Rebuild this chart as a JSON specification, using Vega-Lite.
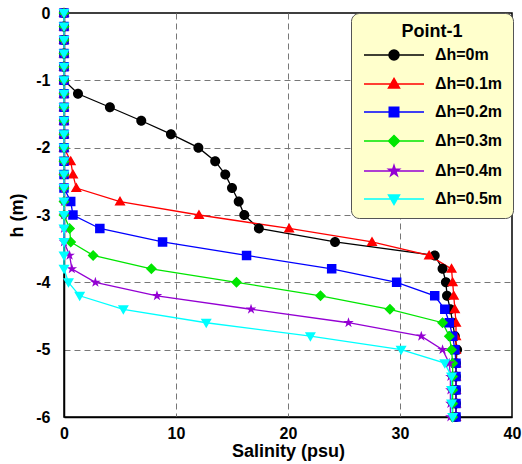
{
  "$schema": "https://vega.github.io/schema/vega-lite/v6.json",
  "width": 448,
  "height": 404,
  "autosize": {"type": "none"},
  "padding": {"left": 64, "top": 13, "right": 10, "bottom": 47},
  "background": "white",
  "config": {
    "font": "Liberation Sans",
    "view": {"stroke": "black", "strokeWidth": 1.5}
  },
  "data": {"values": [
    {"s":"Δh=0m","h":0,"sal":0},{"s":"Δh=0m","h":-0.2,"sal":0},{"s":"Δh=0m","h":-0.4,"sal":0},{"s":"Δh=0m","h":-0.6,"sal":0},{"s":"Δh=0m","h":-0.8,"sal":0},{"s":"Δh=0m","h":-1.0,"sal":0},
    {"s":"Δh=0m","h":-1.2,"sal":1.25},{"s":"Δh=0m","h":-1.4,"sal":4.1},{"s":"Δh=0m","h":-1.6,"sal":6.9},{"s":"Δh=0m","h":-1.8,"sal":9.55},{"s":"Δh=0m","h":-2.0,"sal":12.0},
    {"s":"Δh=0m","h":-2.2,"sal":13.5},{"s":"Δh=0m","h":-2.4,"sal":14.4},{"s":"Δh=0m","h":-2.6,"sal":15.0},{"s":"Δh=0m","h":-2.8,"sal":15.6},{"s":"Δh=0m","h":-3.0,"sal":16.1},
    {"s":"Δh=0m","h":-3.2,"sal":17.4},{"s":"Δh=0m","h":-3.4,"sal":24.2},{"s":"Δh=0m","h":-3.6,"sal":33.1},{"s":"Δh=0m","h":-3.8,"sal":33.8},{"s":"Δh=0m","h":-4.0,"sal":34.1},
    {"s":"Δh=0m","h":-4.2,"sal":34.2},{"s":"Δh=0m","h":-4.4,"sal":34.5},{"s":"Δh=0m","h":-4.6,"sal":34.7},{"s":"Δh=0m","h":-4.8,"sal":34.9},{"s":"Δh=0m","h":-5.0,"sal":35.1},
    {"s":"Δh=0m","h":-5.2,"sal":35.0},{"s":"Δh=0m","h":-5.4,"sal":35.0},{"s":"Δh=0m","h":-5.6,"sal":35.0},{"s":"Δh=0m","h":-5.8,"sal":35.0},{"s":"Δh=0m","h":-6.0,"sal":35.0},

    {"s":"Δh=0.1m","h":0,"sal":0},{"s":"Δh=0.1m","h":-0.2,"sal":0},{"s":"Δh=0.1m","h":-0.4,"sal":0},{"s":"Δh=0.1m","h":-0.6,"sal":0},{"s":"Δh=0.1m","h":-0.8,"sal":0},{"s":"Δh=0.1m","h":-1.0,"sal":0},
    {"s":"Δh=0.1m","h":-1.2,"sal":0},{"s":"Δh=0.1m","h":-1.4,"sal":0},{"s":"Δh=0.1m","h":-1.6,"sal":0},{"s":"Δh=0.1m","h":-1.8,"sal":0},{"s":"Δh=0.1m","h":-2.0,"sal":0},
    {"s":"Δh=0.1m","h":-2.2,"sal":0.6},{"s":"Δh=0.1m","h":-2.4,"sal":0.8},{"s":"Δh=0.1m","h":-2.6,"sal":1.1},{"s":"Δh=0.1m","h":-2.8,"sal":5.0},{"s":"Δh=0.1m","h":-3.0,"sal":12.05},
    {"s":"Δh=0.1m","h":-3.2,"sal":20.1},{"s":"Δh=0.1m","h":-3.4,"sal":27.5},{"s":"Δh=0.1m","h":-3.6,"sal":32.6},{"s":"Δh=0.1m","h":-3.8,"sal":34.6},{"s":"Δh=0.1m","h":-4.0,"sal":34.7},
    {"s":"Δh=0.1m","h":-4.2,"sal":34.8},{"s":"Δh=0.1m","h":-4.4,"sal":34.9},{"s":"Δh=0.1m","h":-4.6,"sal":35.0},{"s":"Δh=0.1m","h":-4.8,"sal":35.0},{"s":"Δh=0.1m","h":-5.0,"sal":35.0},
    {"s":"Δh=0.1m","h":-5.2,"sal":35.0},{"s":"Δh=0.1m","h":-5.4,"sal":35.0},{"s":"Δh=0.1m","h":-5.6,"sal":35.0},{"s":"Δh=0.1m","h":-5.8,"sal":35.0},{"s":"Δh=0.1m","h":-6.0,"sal":35.0},

    {"s":"Δh=0.2m","h":0,"sal":0},{"s":"Δh=0.2m","h":-0.2,"sal":0},{"s":"Δh=0.2m","h":-0.4,"sal":0},{"s":"Δh=0.2m","h":-0.6,"sal":0},{"s":"Δh=0.2m","h":-0.8,"sal":0},{"s":"Δh=0.2m","h":-1.0,"sal":0},
    {"s":"Δh=0.2m","h":-1.2,"sal":0},{"s":"Δh=0.2m","h":-1.4,"sal":0},{"s":"Δh=0.2m","h":-1.6,"sal":0},{"s":"Δh=0.2m","h":-1.8,"sal":0},{"s":"Δh=0.2m","h":-2.0,"sal":0},
    {"s":"Δh=0.2m","h":-2.2,"sal":0},{"s":"Δh=0.2m","h":-2.4,"sal":0},{"s":"Δh=0.2m","h":-2.6,"sal":0},{"s":"Δh=0.2m","h":-2.8,"sal":0.6},{"s":"Δh=0.2m","h":-3.0,"sal":0.8},
    {"s":"Δh=0.2m","h":-3.2,"sal":3.2},{"s":"Δh=0.2m","h":-3.4,"sal":8.8},{"s":"Δh=0.2m","h":-3.6,"sal":16.3},{"s":"Δh=0.2m","h":-3.8,"sal":23.9},{"s":"Δh=0.2m","h":-4.0,"sal":29.7},
    {"s":"Δh=0.2m","h":-4.2,"sal":33.1},{"s":"Δh=0.2m","h":-4.4,"sal":34.0},{"s":"Δh=0.2m","h":-4.6,"sal":34.4},{"s":"Δh=0.2m","h":-4.8,"sal":34.7},{"s":"Δh=0.2m","h":-5.0,"sal":34.9},
    {"s":"Δh=0.2m","h":-5.2,"sal":35.0},{"s":"Δh=0.2m","h":-5.4,"sal":35.0},{"s":"Δh=0.2m","h":-5.6,"sal":35.0},{"s":"Δh=0.2m","h":-5.8,"sal":35.0},{"s":"Δh=0.2m","h":-6.0,"sal":35.0},

    {"s":"Δh=0.3m","h":0,"sal":0},{"s":"Δh=0.3m","h":-0.2,"sal":0},{"s":"Δh=0.3m","h":-0.4,"sal":0},{"s":"Δh=0.3m","h":-0.6,"sal":0},{"s":"Δh=0.3m","h":-0.8,"sal":0},{"s":"Δh=0.3m","h":-1.0,"sal":0},
    {"s":"Δh=0.3m","h":-1.2,"sal":0},{"s":"Δh=0.3m","h":-1.4,"sal":0},{"s":"Δh=0.3m","h":-1.6,"sal":0},{"s":"Δh=0.3m","h":-1.8,"sal":0},{"s":"Δh=0.3m","h":-2.0,"sal":0},
    {"s":"Δh=0.3m","h":-2.2,"sal":0},{"s":"Δh=0.3m","h":-2.4,"sal":0},{"s":"Δh=0.3m","h":-2.6,"sal":0},{"s":"Δh=0.3m","h":-2.8,"sal":0},{"s":"Δh=0.3m","h":-3.0,"sal":0},
    {"s":"Δh=0.3m","h":-3.2,"sal":0.5},{"s":"Δh=0.3m","h":-3.4,"sal":0.6},{"s":"Δh=0.3m","h":-3.6,"sal":2.6},{"s":"Δh=0.3m","h":-3.8,"sal":7.8},{"s":"Δh=0.3m","h":-4.0,"sal":15.4},
    {"s":"Δh=0.3m","h":-4.2,"sal":22.9},{"s":"Δh=0.3m","h":-4.4,"sal":29.1},{"s":"Δh=0.3m","h":-4.6,"sal":33.8},{"s":"Δh=0.3m","h":-4.8,"sal":34.4},{"s":"Δh=0.3m","h":-5.0,"sal":34.6},
    {"s":"Δh=0.3m","h":-5.2,"sal":34.7},{"s":"Δh=0.3m","h":-5.4,"sal":34.7},{"s":"Δh=0.3m","h":-5.6,"sal":34.7},{"s":"Δh=0.3m","h":-5.8,"sal":34.7},{"s":"Δh=0.3m","h":-6.0,"sal":34.7},

    {"s":"Δh=0.4m","h":0,"sal":0},{"s":"Δh=0.4m","h":-0.2,"sal":0},{"s":"Δh=0.4m","h":-0.4,"sal":0},{"s":"Δh=0.4m","h":-0.6,"sal":0},{"s":"Δh=0.4m","h":-0.8,"sal":0},{"s":"Δh=0.4m","h":-1.0,"sal":0},
    {"s":"Δh=0.4m","h":-1.2,"sal":0},{"s":"Δh=0.4m","h":-1.4,"sal":0},{"s":"Δh=0.4m","h":-1.6,"sal":0},{"s":"Δh=0.4m","h":-1.8,"sal":0},{"s":"Δh=0.4m","h":-2.0,"sal":0},
    {"s":"Δh=0.4m","h":-2.2,"sal":0},{"s":"Δh=0.4m","h":-2.4,"sal":0},{"s":"Δh=0.4m","h":-2.6,"sal":0},{"s":"Δh=0.4m","h":-2.8,"sal":0},{"s":"Δh=0.4m","h":-3.0,"sal":0},
    {"s":"Δh=0.4m","h":-3.2,"sal":0},{"s":"Δh=0.4m","h":-3.4,"sal":0},{"s":"Δh=0.4m","h":-3.6,"sal":0.5},{"s":"Δh=0.4m","h":-3.8,"sal":0.7},{"s":"Δh=0.4m","h":-4.0,"sal":2.8},
    {"s":"Δh=0.4m","h":-4.2,"sal":8.3},{"s":"Δh=0.4m","h":-4.4,"sal":16.7},{"s":"Δh=0.4m","h":-4.6,"sal":25.4},{"s":"Δh=0.4m","h":-4.8,"sal":31.9},{"s":"Δh=0.4m","h":-5.0,"sal":33.8},
    {"s":"Δh=0.4m","h":-5.2,"sal":34.4},{"s":"Δh=0.4m","h":-5.4,"sal":34.5},{"s":"Δh=0.4m","h":-5.6,"sal":34.5},{"s":"Δh=0.4m","h":-5.8,"sal":34.5},{"s":"Δh=0.4m","h":-6.0,"sal":34.5},

    {"s":"Δh=0.5m","h":0,"sal":0},{"s":"Δh=0.5m","h":-0.2,"sal":0},{"s":"Δh=0.5m","h":-0.4,"sal":0},{"s":"Δh=0.5m","h":-0.6,"sal":0},{"s":"Δh=0.5m","h":-0.8,"sal":0},{"s":"Δh=0.5m","h":-1.0,"sal":0},
    {"s":"Δh=0.5m","h":-1.2,"sal":0},{"s":"Δh=0.5m","h":-1.4,"sal":0},{"s":"Δh=0.5m","h":-1.6,"sal":0},{"s":"Δh=0.5m","h":-1.8,"sal":0},{"s":"Δh=0.5m","h":-2.0,"sal":0},
    {"s":"Δh=0.5m","h":-2.2,"sal":0},{"s":"Δh=0.5m","h":-2.4,"sal":0},{"s":"Δh=0.5m","h":-2.6,"sal":0},{"s":"Δh=0.5m","h":-2.8,"sal":0},{"s":"Δh=0.5m","h":-3.0,"sal":0},
    {"s":"Δh=0.5m","h":-3.2,"sal":0},{"s":"Δh=0.5m","h":-3.4,"sal":0},{"s":"Δh=0.5m","h":-3.6,"sal":0},{"s":"Δh=0.5m","h":-3.8,"sal":0},{"s":"Δh=0.5m","h":-4.0,"sal":0.4},
    {"s":"Δh=0.5m","h":-4.2,"sal":1.4},{"s":"Δh=0.5m","h":-4.4,"sal":5.3},{"s":"Δh=0.5m","h":-4.6,"sal":12.7},{"s":"Δh=0.5m","h":-4.8,"sal":22.0},{"s":"Δh=0.5m","h":-5.0,"sal":30.1},
    {"s":"Δh=0.5m","h":-5.2,"sal":34.0},{"s":"Δh=0.5m","h":-5.4,"sal":34.6},{"s":"Δh=0.5m","h":-5.6,"sal":34.6},{"s":"Δh=0.5m","h":-5.8,"sal":34.6},{"s":"Δh=0.5m","h":-6.0,"sal":34.7}
  ]},
  "encoding": {
    "x": {
      "field": "sal", "type": "quantitative",
      "scale": {"domain": [0, 40], "nice": false, "zero": false},
      "axis": {
        "title": "Salinity (psu)", "values": [0, 10, 20, 30, 40],
        "ticks": false, "labelPadding": 8, "labelFontSize": 16, "labelFontWeight": "bold", "labelColor": "black",
        "titleFontSize": 18, "titleFontWeight": "bold", "titleColor": "black", "titlePadding": 1,
        "domainColor": "black", "domainWidth": 1.5,
        "grid": true, "gridDash": [6, 4], "gridColor": "#777",
        "gridOpacity": {"condition": {"test": "datum.value === 0 || datum.value === 40", "value": 0}, "value": 1},
        "labelFlush": false
      }
    },
    "y": {
      "field": "h", "type": "quantitative",
      "scale": {"domain": [-6, 0], "nice": false, "zero": false},
      "axis": {
        "title": "h (m)", "values": [0, -1, -2, -3, -4, -5, -6],
        "labelExpr": "'' + datum.value",
        "ticks": false, "labelPadding": 14, "labelFontSize": 16, "labelFontWeight": "bold", "labelColor": "black",
        "titleFontSize": 18, "titleFontWeight": "bold", "titleColor": "black", "titlePadding": 9,
        "domainColor": "black", "domainWidth": 1.5,
        "grid": true, "gridDash": [6, 4], "gridColor": "#777",
        "gridOpacity": {"condition": {"test": "datum.value === 0 || datum.value === -6", "value": 0}, "value": 1},
        "labelFlush": false
      }
    },
    "color": {
      "field": "s", "type": "nominal",
      "scale": {
        "domain": ["Δh=0m", "Δh=0.1m", "Δh=0.2m", "Δh=0.3m", "Δh=0.4m", "Δh=0.5m"],
        "range": ["#000000", "#FF0000", "#0000FF", "#00E600", "#9400D3", "#00FFFF"]
      },
      "legend": {
        "orient": "none", "legendX": 287, "legendY": 0,
        "title": "Point-1", "titleFontSize": 18, "titleFontWeight": "bold", "titleColor": "black",
        "titleAnchor": "middle", "titlePadding": 6,
        "labelFontSize": 16, "labelFontWeight": "bold", "labelColor": "black",
        "fillColor": "#FFFFCC", "strokeColor": "#555555", "cornerRadius": 8, "padding": 10,
        "symbolSize": 100, "symbolOffset": 25, "labelOffset": 33, "rowPadding": 12,
        "symbolStrokeWidth": 1.5,
        "encode": {"symbols": {"update": {"stroke": {"scale": "color", "field": "value"}, "strokeWidth": {"value": 1.5}}}}
      }
    }
  },
  "layer": [
    {
      "mark": {"type": "line", "strokeWidth": 1.3},
      "encoding": {"order": {"field": "h", "type": "quantitative", "sort": "descending"}}
    },
    {
      "mark": {"type": "point", "filled": true, "opacity": 1, "size": 100, "strokeWidth": 0},
      "encoding": {
        "shape": {
          "field": "s", "type": "nominal",
          "scale": {
            "domain": ["Δh=0m", "Δh=0.1m", "Δh=0.2m", "Δh=0.3m", "Δh=0.4m", "Δh=0.5m"],
            "range": [
              "M-1,0 A1,1 0 1,1 1,0 A1,1 0 1,1 -1,0 Z M-6,0 L6,0",
              "M0,-1.1 L1.1,0.8 L-1.1,0.8 Z M-6,0 L6,0",
              "M-0.95,-0.95 L0.95,-0.95 L0.95,0.95 L-0.95,0.95 Z M-6,0 L6,0",
              "M0,-1.1 L1.1,0 L0,1.1 L-1.1,0 Z M-6,0 L6,0",
              "M0,-1.1 L0.25,-0.34 L1.05,-0.34 L0.4,0.13 L0.65,0.89 L0,0.42 L-0.65,0.89 L-0.4,0.13 L-1.05,-0.34 L-0.25,-0.34 Z M-6,0 L6,0",
              "M-1.1,-0.8 L1.1,-0.8 L0,1.1 Z M-6,0 L6,0"
            ]
          },
          "legend": {
            "orient": "none", "legendX": 287, "legendY": 0,
            "title": "Point-1", "titleFontSize": 18, "titleFontWeight": "bold", "titleColor": "black",
            "titleAnchor": "middle", "titlePadding": 6,
            "labelFontSize": 16, "labelFontWeight": "bold", "labelColor": "black",
            "fillColor": "#FFFFCC", "strokeColor": "#555555", "cornerRadius": 8, "padding": 10,
            "symbolSize": 100, "symbolOffset": 25, "labelOffset": 33, "rowPadding": 12,
            "symbolStrokeWidth": 1.5,
            "encode": {"symbols": {"update": {"stroke": {"scale": "color", "field": "value"}, "strokeWidth": {"value": 1.5}}}}
          }
        }
      }
    }
  ]
}
